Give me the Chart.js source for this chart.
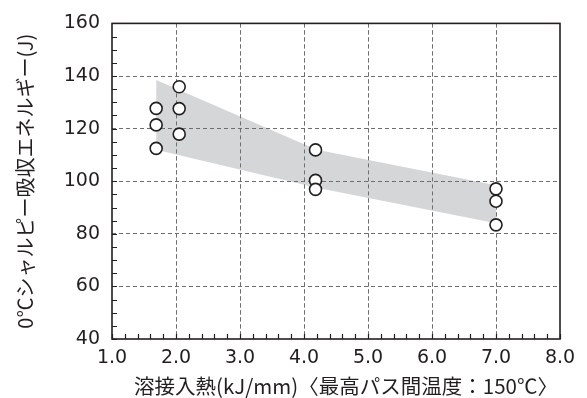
<!DOCTYPE html>
<html>
<head>
<meta charset="utf-8">
<script src="https://cdn.jsdelivr.net/npm/chart.js"></script>
<style>
  html, body { margin: 0; padding: 0; background: #fff; }
  #wrap { width: 587px; height: 398px; position: relative; }
</style>
</head>
<body>
<div id="wrap"><canvas id="chart"></canvas></div>
<script>
// Datos
const heatInput = [1.69, 1.69, 1.69, 2.05, 2.05, 2.05, 4.18, 4.18, 4.18, 7.0, 7.0, 7.0];
const absorbedEnergy = [127.7, 121.4, 112.5, 135.9, 127.6, 117.9, 111.9, 100.3, 96.9, 97.1, 92.4, 83.4];

// Banda gris (límite superior e inferior)
const bandX = [1.69, 4.2, 7.0];
const bandUpper = [138.5, 112, 98.5];
const bandLower = [112, 97.5, 84];

// Ejes
const xTickValues = [1, 2, 3, 4, 5, 6, 7, 8];
const yTickValues = [40, 60, 80, 100, 120, 140, 160];
const xMinorStep = 0.2;
const yMinorStep = 5;

const xTitle = '溶接入熱(kJ/mm)〈最高パス間温度：150℃〉';
const yTitle = '0℃シャルピー吸収エネルギー(J)';

const textColor = '#231f20';
const tickFont = { family: 'DejaVu Sans', size: 19 };
const titleFont = { family: 'Noto Sans CJK JP', size: 20 };

// Redibujar la cuadrícula encima de la banda y debajo de los puntos
const gridOverBand = {
    id: 'gridOverBand',
    beforeDatasetDraw(chart, args) {
        if (args.index !== 0) return;
        const area = chart.chartArea;
        chart.scales.x.drawGrid(area);
        chart.scales.y.drawGrid(area);
    }
};

// Marco, marcas menores hacia dentro y título del eje X
const frameAndMinor = {
    id: 'frameAndMinor',
    afterDraw(chart) {
        const ctx = chart.ctx;
        const a = chart.chartArea;
        const x = chart.scales.x, y = chart.scales.y;
        ctx.save();
        ctx.strokeStyle = textColor;
        ctx.lineWidth = 1.2;
        ctx.beginPath();
        for (let v = y.min; v <= y.max + 0.001; v += yMinorStep) {
            const py = Math.round(y.getPixelForValue(v)) + 0.5;
            ctx.moveTo(a.left, py);
            ctx.lineTo(a.left + 5, py);
        }
        for (let v = x.min; v <= x.max + 0.001; v += xMinorStep) {
            const px = Math.round(x.getPixelForValue(v)) + 0.5;
            ctx.moveTo(px, a.bottom);
            ctx.lineTo(px, a.bottom - 5);
        }
        ctx.stroke();
        ctx.lineWidth = 1.6;
        ctx.strokeRect(a.left, a.top, a.right - a.left, a.bottom - a.top);

        // título X, algo desplazado a la derecha como en el original
        ctx.fillStyle = textColor;
        ctx.font = '20.5px "Noto Sans CJK JP"';
        ctx.textAlign = 'center';
        ctx.textBaseline = 'middle';
        ctx.fillText(xTitle, (a.left + a.right) / 2 + 10, x.bottom - 12);
        ctx.restore();
    }
};

const gridStyle = {
    color: '#6d6e71',
    lineWidth: 1,
    drawTicks: false
};

new Chart(document.getElementById('chart'), {
    type: 'scatter',
    data: {
        datasets: [
            {
                label: 'puntos',
                data: heatInput.map((v, i) => ({ x: v, y: absorbedEnergy[i] })),
                pointRadius: 6,
                pointHoverRadius: 6,
                pointBackgroundColor: '#ffffff',
                pointBorderColor: textColor,
                pointBorderWidth: 1.6,
                showLine: false
            },
            {
                label: 'superior',
                data: bandX.map((v, i) => ({ x: v, y: bandUpper[i] })),
                showLine: true,
                borderWidth: 0,
                borderColor: 'rgba(0,0,0,0)',
                pointRadius: 0,
                fill: false
            },
            {
                label: 'inferior',
                data: bandX.map((v, i) => ({ x: v, y: bandLower[i] })),
                showLine: true,
                borderWidth: 0,
                borderColor: 'rgba(0,0,0,0)',
                backgroundColor: '#d5d6d8',
                pointRadius: 0,
                fill: '-1'
            }
        ]
    },
    options: {
        responsive: true,
        maintainAspectRatio: false,
        animation: false,
        layout: { padding: { left: 0, right: 27, top: 17, bottom: 0 } },
        plugins: {
            legend: { display: false },
            tooltip: { enabled: false }
        },
        scales: {
            x: {
                type: 'linear',
                min: 1,
                max: 8,
                afterBuildTicks: (scale) => { scale.ticks = xTickValues.map(v => ({ value: v })); },
                afterFit: (scale) => { scale.height = 59; },
                grid: Object.assign({}, gridStyle, {
                    color: (c) => (c.tick && (c.tick.value === 1 || c.tick.value === 8)) ? 'rgba(0,0,0,0)' : '#6d6e71'
                }),
                border: { display: false, dash: [4, 3] },
                ticks: {
                    color: textColor,
                    font: tickFont,
                    padding: 8,
                    callback: (v) => v.toFixed(1)
                },
                title: { display: false }
            },
            y: {
                min: 40,
                max: 160,
                afterBuildTicks: (scale) => { scale.ticks = yTickValues.map(v => ({ value: v })); },
                afterFit: (scale) => { scale.width = 112; },
                grid: Object.assign({}, gridStyle, {
                    color: (c) => (c.tick && (c.tick.value === 40 || c.tick.value === 160)) ? 'rgba(0,0,0,0)' : '#6d6e71'
                }),
                border: { display: false, dash: [4, 3] },
                ticks: {
                    color: textColor,
                    font: tickFont,
                    padding: 12
                },
                title: {
                    display: true,
                    text: yTitle,
                    color: textColor,
                    font: titleFont,
                    padding: { top: 13, bottom: 0 }
                }
            }
        }
    },
    plugins: [gridOverBand, frameAndMinor]
});
</script>
</body>
</html>
